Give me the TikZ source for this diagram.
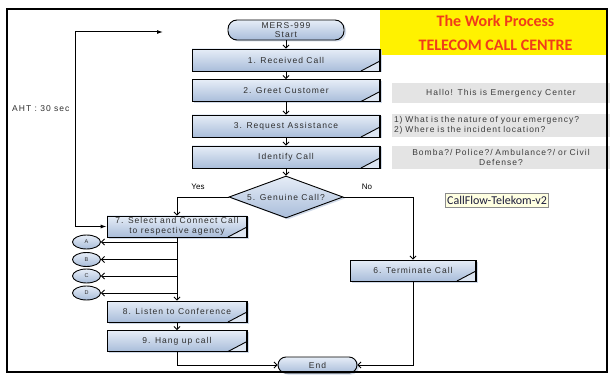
\documentclass[tikz,border=0pt]{standalone}
\usepackage{fontspec}
\setmainfont{Liberation Sans}
\newfontfamily\flowfont{Liberation Sans}[LetterSpace=12]
\newfontfamily\titlefont{Carlito}
\usetikzlibrary{arrows.meta,shapes.geometric,shadows}

\definecolor{boxtop}{HTML}{E6EDF7}
\definecolor{boxbot}{HTML}{A9BDDA}
\definecolor{foldc}{HTML}{DCE5F2}
\definecolor{shadowblue}{HTML}{C5D1E4}
\definecolor{textgray}{HTML}{2E2E2E}
\definecolor{notegray}{HTML}{E4E4E4}
\definecolor{notetext}{HTML}{3C3C3C}
\definecolor{titlered}{HTML}{F03C1A}
\definecolor{tipfill}{HTML}{FFFFE1}
\definecolor{tipdraw}{HTML}{8C8C8C}
\definecolor{tiptext}{HTML}{1C1C3C}

\tikzset{
  flowtext/.style={font=\flowfont\fontsize{8.5}{9.5}\selectfont, text=textgray, align=center},
  blueshadow/.style={drop shadow={shadow xshift=2pt, shadow yshift=-1.5pt, fill=shadowblue, opacity=0.8}},
  procbox/.style={flowtext, draw=black, line width=0.8pt, top color=boxtop, bottom color=boxbot,
    inner sep=0pt, minimum height=22pt, blueshadow,
    path picture={
      \fill[foldc] ([xshift=-19pt]path picture bounding box.south east)
        -- ([yshift=10pt]path picture bounding box.south east)
        -- (path picture bounding box.south east) -- cycle;
      \draw[line width=0.9pt] ([xshift=-19pt]path picture bounding box.south east)
        -- ([yshift=10pt]path picture bounding box.south east);
      \draw[line width=2.6pt] (path picture bounding box.north west) -- (path picture bounding box.south west);
      \draw[line width=2.6pt] (path picture bounding box.north east) -- (path picture bounding box.south east);
    }},
  widebox/.style={procbox, minimum width=188pt},
  narrowbox/.style={procbox, minimum width=140pt, minimum height=21pt},
  terminal/.style={flowtext, draw=black, line width=0.9pt, top color=boxtop, bottom color=boxbot,
    rounded corners=9pt, inner sep=0pt, blueshadow},
  decision/.style={flowtext, diamond, aspect=2.7, draw=black, line width=0.9pt, top color=boxtop,
    bottom color=boxbot, inner sep=0pt, minimum width=114pt, minimum height=42pt, blueshadow},
  connector/.style={ellipse, draw=black, line width=0.9pt, top color=boxtop, bottom color=boxbot,
    minimum width=28pt, minimum height=14pt, inner sep=0pt,
    font=\flowfont\fontsize{5.5}{6}\selectfont, text=textgray},
  note/.style={fill=notegray, flowtext, text=notetext, minimum width=218pt, inner sep=2pt},
  conn/.style={draw=black, line width=0.9pt, -{Straight Barb[length=3pt,width=6pt]}},
  answer/.style={font=\fontsize{8}{9}\selectfont, text=black},
}

\begin{document}
\begin{tikzpicture}[x=1pt,y=-1pt]
  \useasboundingbox (0,0) rectangle (611,377);
  \fill[white] (0,0) rectangle (611,377);

  % header and notes
  \node[fill=yellow, minimum width=227pt, minimum height=45pt, inner sep=0pt] (header) at (493.5,32.5) {};
  \node[font=\titlefont\bfseries\fontsize{16}{18}\selectfont, text=titlered] (title1) at (495.5,20.5) {The Work Process};
  \node[font=\titlefont\bfseries\fontsize{16}{18}\selectfont, text=titlered] (title2) at (495.5,45) {TELECOM CALL CENTRE};

  \node[note, minimum height=20pt] (n2) at (501,93) {Hallo! This is Emergency Center};
  \node[note, minimum height=23pt, text width=214pt, align=left] (n3) at (501,125.5)
    {1) What is the nature of your emergency?\\2) Where is the incident location?};
  \node[note, minimum height=23pt, text width=214pt] (n4) at (501,157.5)
    {Bomba?/ Police?/ Ambulance?/ or Civil\\Defense?};

  \node[fill=tipfill, draw=tipdraw, line width=0.6pt, inner sep=1.5pt, minimum height=14pt,
        font=\titlefont\fontsize{12}{13}\selectfont, text=tiptext] (tip) at (497,200) {CallFlow-Telekom-v2};

  % main flow
  \node[terminal, minimum width=116pt, minimum height=20pt] (start) at (286,30) {MERS-999\\Start};
  \node[widebox] (b1) at (286,60) {1. Received Call};
  \node[widebox] (b2) at (286,90.5) {2. Greet Customer};
  \node[widebox] (b3) at (286,126) {3. Request Assistance};
  \node[widebox] (b4) at (286,157) {Identify Call};
  \node[decision] (d5) at (286,197) {5. Genuine Call?};
  \node[narrowbox] (b7) at (177,226.5) {7. Select and Connect Call\\to respective agency};
  \node[procbox, minimum width=126pt, minimum height=21pt] (b6) at (413,270.5) {6. Terminate Call};
  \node[narrowbox] (b8) at (177,311.5) {8. Listen to Conference};
  \node[narrowbox] (b9) at (177,341) {9. Hang up call};
  \node[terminal, minimum width=79pt, minimum height=16pt, rounded corners=8pt] (end) at (317.5,365) {End};

  \node[connector] (cA) at (86.5,242) {A};
  \node[connector] (cB) at (86.5,259.5) {B};
  \node[connector] (cC) at (86.5,276) {C};
  \node[connector] (cD) at (86.5,293) {D};

  \node[answer] (yes) at (198,187) {Yes};
  \node[answer] (no) at (367,187) {No};

  \node[flowtext, anchor=east] (aht) at (73,109) {AHT : 30 sec};

  % connectors
  \draw[conn] (start) -- (b1);
  \draw[conn] (b1) -- (b2);
  \draw[conn] (b2) -- (b3);
  \draw[conn] (b3) -- (b4);
  \draw[conn] (b4) -- (d5);
  \draw[conn] (d5.west) -| (b7.north);
  \draw[conn] (d5.east) -| (b6.north);
  \draw[conn] (b6.south) |- (end.east);
  \draw[conn] (b9.south) |- (end.west);
  \draw[conn] (b7.south) -- (b8.north);
  \draw[conn] (b8) -- (b9);

  \coordinate (tapA) at (177,242);
  \coordinate (tapB) at (177,259.5);
  \coordinate (tapC) at (177,276);
  \coordinate (tapD) at (177,293);
  \draw[conn] (tapA) -- (cA.east);
  \draw[conn] (tapB) -- (cB.east);
  \draw[conn] (tapC) -- (cC.east);
  \draw[conn] (tapD) -- (cD.east);

  % handling-time loop
  \coordinate (ahtTop) at (163,32);
  \coordinate (ahtBend) at (75,32);
  \draw[line width=1pt, {Latex[length=6pt,width=4pt]}-{Latex[length=6pt,width=4pt]}]
    (ahtTop) -- (ahtBend) |- (b7.west);

  % outer frame
  \draw[line width=2.5pt] (7,9) rectangle (607,372);
\end{tikzpicture}
\end{document}
